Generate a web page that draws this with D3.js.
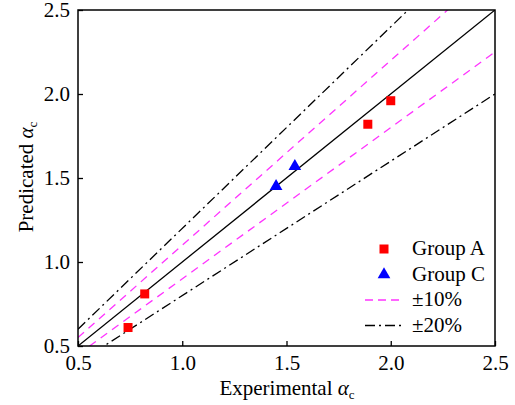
<!DOCTYPE html>
<html>
<head>
<meta charset="utf-8">
<script src="https://cdn.jsdelivr.net/npm/d3@7"></script>
<style>
  body { margin: 0; background: #fff; }
  svg text { font-family: 'Liberation Serif', 'Times New Roman', Times, serif !important; }
</style>
</head>
<body>
<svg></svg>
<script>
// data
const groupA = [[0.74, 0.61], [0.82, 0.81], [1.89, 1.82], [2.0, 1.96]];
const groupC = [[1.45, 1.45], [1.54, 1.57]];
const ratios = [1.0, 1.1, 0.9, 1.2, 0.8];
const ticks = [0.5, 1.0, 1.5, 2.0, 2.5];

const svgWidth = 515;
const svgHeight = 405;
const margin = {left: 78, right: 20, top: 10, bottom: 59};
const w = svgWidth - margin.left - margin.right;
const h = svgHeight - margin.top - margin.bottom;
const fs = 21;

const svg = d3.select('svg')
    .attr('width', svgWidth)
    .attr('height', svgHeight);

const x = d3.scaleLinear().domain([0.5, 2.5]).range([0, w]);
const y = d3.scaleLinear().domain([0.5, 2.5]).range([h, 0]);

svg.append('defs').append('clipPath').attr('id', 'clip')
    .append('rect').attr('width', w).attr('height', h);

const g = svg.append('g')
    .attr('transform', 'translate(' + margin.left + ',' + margin.top + ')');

// reference lines
const lineStyle = r => {
    if (r === 1) return {stroke: '#000', dash: null};
    if (Math.abs(r - 1) < 0.15) return {stroke: '#ff33ff', dash: '8,6'};
    return {stroke: '#000', dash: '10,4,2,4'};
};
const line = d3.line().x(d => x(d[0])).y(d => y(d[1]));
g.append('g').attr('clip-path', 'url(#clip)')
    .selectAll('path')
    .data(ratios)
    .enter()
    .append('path')
    .attr('d', r => line([[0.5, 0.5 * r], [2.5, 2.5 * r]]))
    .attr('fill', 'none')
    .attr('stroke', r => lineStyle(r).stroke)
    .attr('stroke-width', 1.3)
    .attr('stroke-dasharray', r => lineStyle(r).dash);

// points
g.selectAll('.ptA')
    .data(groupA)
    .enter()
    .append('rect')
    .attr('x', d => x(d[0]) - 4.5)
    .attr('y', d => y(d[1]) - 4.5)
    .attr('width', 9)
    .attr('height', 9)
    .attr('fill', '#ff0000');

const tri = d3.symbol().type(d3.symbolTriangle).size(70);
g.selectAll('.ptC')
    .data(groupC)
    .enter()
    .append('path')
    .attr('d', tri)
    .attr('transform', d => 'translate(' + x(d[0]) + ',' + y(d[1]) + ')')
    .attr('fill', '#0000ff');

// axes
const xAxis = g.append('g')
    .attr('transform', 'translate(0,' + h + ')')
    .call(d3.axisBottom(x).tickValues(ticks).tickFormat(d3.format('.1f')).tickSizeInner(-5).tickSizeOuter(0).tickPadding(9));
const yAxis = g.append('g')
    .call(d3.axisLeft(y).tickValues(ticks).tickFormat(d3.format('.1f')).tickSizeInner(-5).tickSizeOuter(0).tickPadding(8));
[xAxis, yAxis].forEach(a => {
    a.attr('font-family', null);
    a.select('.domain').remove();
    a.selectAll('line').attr('stroke', '#000').attr('stroke-width', 1.3);
    a.selectAll('text').attr('font-size', fs).attr('fill', '#000');
});
xAxis.selectAll('text').attr('dy', '0.71em');

g.append('rect')
    .attr('width', w).attr('height', h)
    .attr('fill', 'none').attr('stroke', '#000').attr('stroke-width', 1.5);

// axis titles
const xt = svg.append('text')
    .attr('x', 287)
    .attr('y', 395)
    .attr('text-anchor', 'middle')
    .attr('font-size', fs);
xt.append('tspan').text('Experimental ');
xt.append('tspan').attr('font-style', 'italic').text('α');
xt.append('tspan').attr('font-size', 13).attr('dy', 4).text('c');

const yt = svg.append('text')
    .attr('transform', 'translate(33,' + 177 + ') rotate(-90)')
    .attr('text-anchor', 'middle')
    .attr('font-size', fs);
yt.append('tspan').text('Predicated ');
yt.append('tspan').attr('font-style', 'italic').text('α');
yt.append('tspan').attr('font-size', 13).attr('dy', 4).text('c');

// legend
const legendItems = [
    {label: 'Group A', type: 'square'},
    {label: 'Group C', type: 'triangle'},
    {label: '±10%', type: 'line', r: 1.1},
    {label: '±20%', type: 'line', r: 1.2}
];
const lg = svg.append('g').attr('transform', 'translate(384,249)');
const item = lg.selectAll('g')
    .data(legendItems)
    .enter()
    .append('g')
    .attr('transform', (d, i) => 'translate(0,' + i * 25.5 + ')');
item.filter(d => d.type === 'square').append('rect')
    .attr('x', -4.5).attr('y', -4.5).attr('width', 9).attr('height', 9).attr('fill', '#ff0000');
item.filter(d => d.type === 'triangle').append('path')
    .attr('d', tri).attr('fill', '#0000ff');
item.filter(d => d.type === 'line').append('line')
    .attr('x1', -19).attr('x2', 19)
    .attr('stroke', d => lineStyle(d.r).stroke)
    .attr('stroke-width', 1.3)
    .attr('stroke-dasharray', d => d.r === 1.1 ? '8,5' : '10,4,2,4');
item.append('text')
    .attr('x', 28)
    .attr('y', 6)
    .attr('font-size', fs)
    .text(d => d.label);
</script>
</body>
</html>
